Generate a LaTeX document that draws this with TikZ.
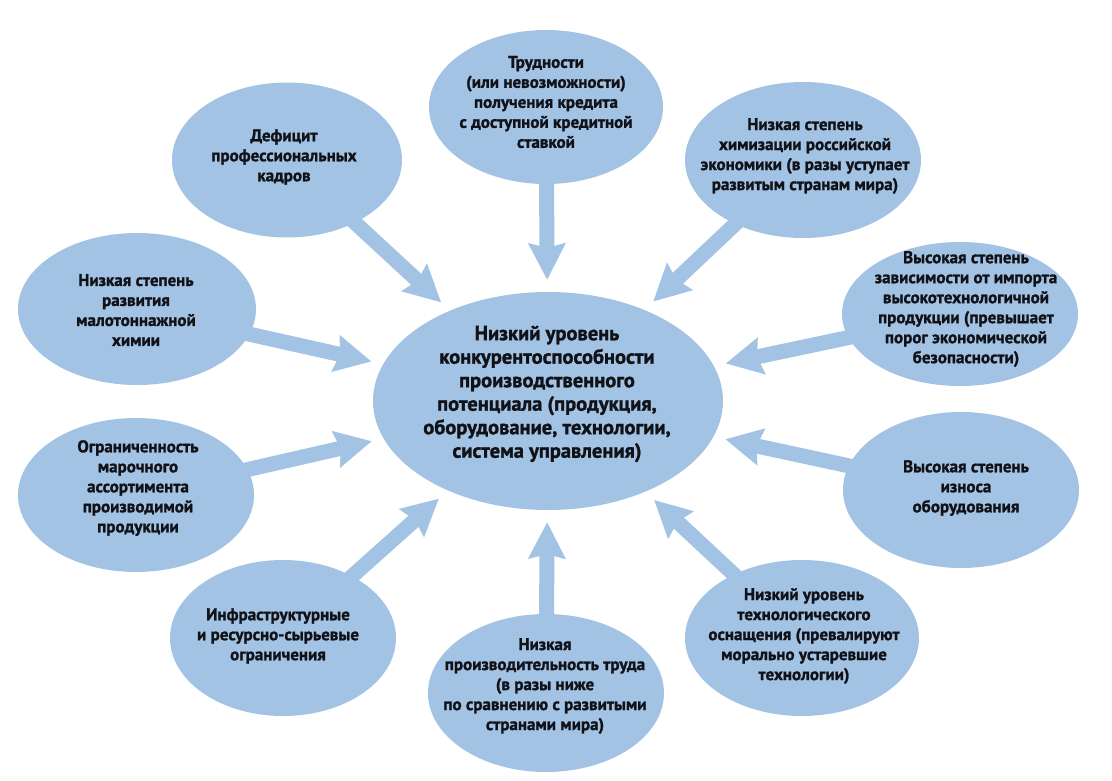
\documentclass[tikz,border=0pt]{standalone}
\usepackage{fontspec}
\setmainfont{PT Sans}[BoldFont={PT Sans Bold},BoldFeatures={FakeBold=1.3}]
\usetikzlibrary{shapes.geometric,arrows.meta}
\definecolor{fillc}{RGB}{163,195,228}
\definecolor{inkc}{RGB}{17,17,24}
\pgfdeclarelayer{bg}
\pgfsetlayers{bg,main}
\begin{document}
\begin{tikzpicture}[x=1pt,y=-1pt,
  ell/.style={ellipse,fill=fillc,draw=none,inner sep=0pt},
  txt/.style={align=center,text=inkc,font=\fontsize{17}{20}\selectfont\bfseries,inner sep=0pt},
  bigtxt/.style={align=center,text=inkc,font=\fontsize{20.5}{23.5}\selectfont\bfseries,inner sep=0pt},
  arr/.style={line width=15pt,draw=fillc,-{Stealth[length=36pt,width=36pt,inset=4pt]},shorten >=12pt,shorten <=-20pt}]
\useasboundingbox (0,0) rectangle (1112,780);
% ellipses
\node[ell,minimum width=350pt,minimum height=218pt] (c) at (548,401) {};
\node[ell,minimum width=234pt,minimum height=154pt] (e1) at (546,107) {};
\node[ell,minimum width=230pt,minimum height=155pt] (e2) at (287,160) {};
\node[ell,minimum width=236pt,minimum height=156pt] (e3) at (803,160) {};
\node[ell,minimum width=238pt,minimum height=152pt] (e4) at (137,309) {};
\node[ell,minimum width=236pt,minimum height=144pt] (e5) at (960,314) {};
\node[ell,minimum width=236pt,minimum height=154pt] (e6) at (136,495) {};
\node[ell,minimum width=236pt,minimum height=156pt] (e7) at (961,490) {};
\node[ell,minimum width=226pt,minimum height=156pt] (e8) at (283,638) {};
\node[ell,minimum width=236pt,minimum height=158pt] (e9) at (546,693) {};
\node[ell,minimum width=234pt,minimum height=156pt] (e10) at (802,638) {};
% texts
\node[bigtxt] (tc) at (547,394) {Низкий уровень\\конкурентоспособности\\производственного\\потенциала (продукция,\\оборудование, технологии,\\система управления)};
\node[txt] (t1) at (546,102) {Трудности\\(или невозможности)\\получения кредита\\с доступной кредитной\\ставкой};
\node[txt] (t2) at (284,157) {Дефицит\\профессиональных\\кадров};
\node[txt] (t3) at (805,156) {Низкая степень\\химизации российской\\экономики (в разы уступает\\развитым странам мира)};
\node[txt] (t4) at (136,310) {Низкая степень\\развития\\малотоннажной\\химии};
\node[txt] (t5) at (966,309) {Высокая степень\\зависимости от импорта\\высокотехнологичной\\продукции (превышает\\порог экономической\\безопасности)};
\node[txt] (t6) at (138,488) {Ограниченность\\марочного\\ассортимента\\производимой\\продукции};
\node[txt] (t7) at (966,488) {Высокая степень\\износа\\оборудования};
\node[txt] (t8) at (278,636) {Инфраструктурные\\и ресурсно-сырьевые\\ограничения};
\node[txt] (t9) at (545,686) {Низкая\\производительность труда\\(в разы ниже\\по сравнению с развитыми\\странами мира)};
\node[txt] (t10) at (804,636) {Низкий уровень\\технологического\\оснащения (превалируют\\морально устаревшие\\технологии)};
% arrows
\begin{pgfonlayer}{bg}
\fill[white] (0,0) rectangle (1112,780);
\foreach \s in {e1,e2,e3,e4,e5,e6,e7,e8,e9,e10}
  \draw[arr] (\s) -- (c);
\end{pgfonlayer}
\end{tikzpicture}
\end{document}
